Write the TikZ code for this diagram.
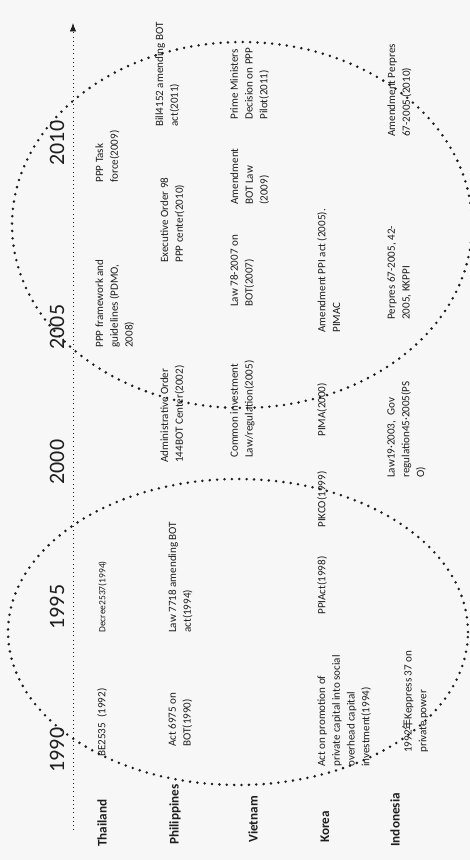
\documentclass[tikz,border=0pt]{standalone}
\usepackage{fontspec}
\setmainfont{Carlito}
\newfontfamily\cjk{Noto Sans CJK SC}
\usetikzlibrary{arrows.meta}
\definecolor{scanink}{RGB}{30,30,30}
\definecolor{scanbg}{RGB}{247,247,247}

\begin{document}
\begin{tikzpicture}[x=0.02cm,y=-0.02cm,>=Latex]
\tikzstyle{year}=[rotate=90,font=\fontsize{12.5}{12.5}\selectfont,text=scanink,inner sep=0pt]
\tikzstyle{country}=[rotate=90,anchor=west,font=\fontsize{7.5}{9}\selectfont\bfseries,text=scanink,inner sep=0pt]
\tikzstyle{cell}=[rotate=90,anchor=north west,align=left,font=\fontsize{6.3}{8.4}\selectfont,text=scanink,inner sep=0pt]
\tikzstyle{bubble}=[scanink,line width=1.6pt,line cap=round,dash pattern=on 0pt off 4.2pt]
\fill[scanbg] (0,0) rectangle (470,860);
\useasboundingbox (0,0) rectangle (470,860);
% time axis
\coordinate (axisfrom) at (73,830);
\coordinate (axisto) at (73,23);
\draw[->,dotted,scanink,thin] (axisfrom) -- (axisto);
\node[year] (y1990) at (57,750) {1990};
\node[year] (y1995) at (57,607) {1995};
\node[year] (y2000) at (57,462) {2000};
\node[year] (y2005) at (57,327) {2005};
\node[year] (y2010) at (57,143) {2010};
% countries
\node[country] (thailand) at (102,847) {Thailand};
\node[country] (philippines) at (175,845) {Philippines};
\node[country] (vietnam) at (253,843) {Vietnam};
\node[country] (korea) at (325,843) {Korea};
\node[country] (indonesia) at (395,847) {Indonesia};
% Thailand
\node[cell] (th1) at (97,757) {BE2535\ \ (1992)};
\node[cell,font=\fontsize{5.4}{7}\selectfont] (th2) at (98,633) {Decree2537(1994)};
\node[cell] (th3) at (95,348) {PPP framework and\\guidelines (PDMO,\\2008)};
\node[cell] (th4) at (95,183) {PPP Task\\force(2009)};
% Philippines
\node[cell] (ph1) at (168,747) {Act 6975 on\\BOT(1990)};
\node[cell] (ph2) at (168,633) {Law 7718 amending BOT\\act(1994)};
\node[cell] (ph3) at (160,463) {Administrative Order\\144BOT Center(2002)};
\node[cell] (ph4) at (160,263) {Executive Order 98\\PPP center(2010)};
\node[cell] (ph5) at (155,127) {Bill4152 amending BOT\\act(2011)};
% Vietnam
\node[cell] (vn1) at (230,458) {Common investment\\Law/regulation(2005)};
\node[cell] (vn2) at (230,307) {Law 78-2007 on\\BOT(2007)};
\node[cell] (vn3) at (230,205) {Amendment\\BOT Law\\(2009)};
\node[cell] (vn4) at (230,120) {Prime Ministers\\Decision on PPP\\Pilot(2011)};
% Korea
\node[cell] (kr1) at (317,767) {Act on promotion of\\private capital into social\\overhead capital\\investment(1994)};
\node[cell] (kr2) at (317,615) {PPIAct(1998)};
\node[cell] (kr3) at (317,528) {PIKCO(1999)};
\node[cell] (kr4) at (317,437) {PIMA(2000)};
\node[cell] (kr5) at (317,333) {Amendment PPI act (2005).\\PIMAC};
% Indonesia
\node[cell] (id1) at (402,753) {1992{\cjk 年}Keppress 37 on\\private power};
\node[cell] (id2) at (387,478) {Law19·2003,\ \ Gov\\regulation45·2005(PS\\O)};
\node[cell] (id3) at (387,320) {Perpres 67-2005,\ 42-\\2005, KKPPI};
\node[cell] (id4) at (387,137) {Amendment Perpres\\67-2005 (2010)};
% periods
\draw[bubble] (238,632) ellipse [x radius=4.6cm,y radius=3.06cm];
\draw[bubble] (242,225) ellipse [x radius=4.6cm,y radius=3.66cm];
\end{tikzpicture}
\end{document}
